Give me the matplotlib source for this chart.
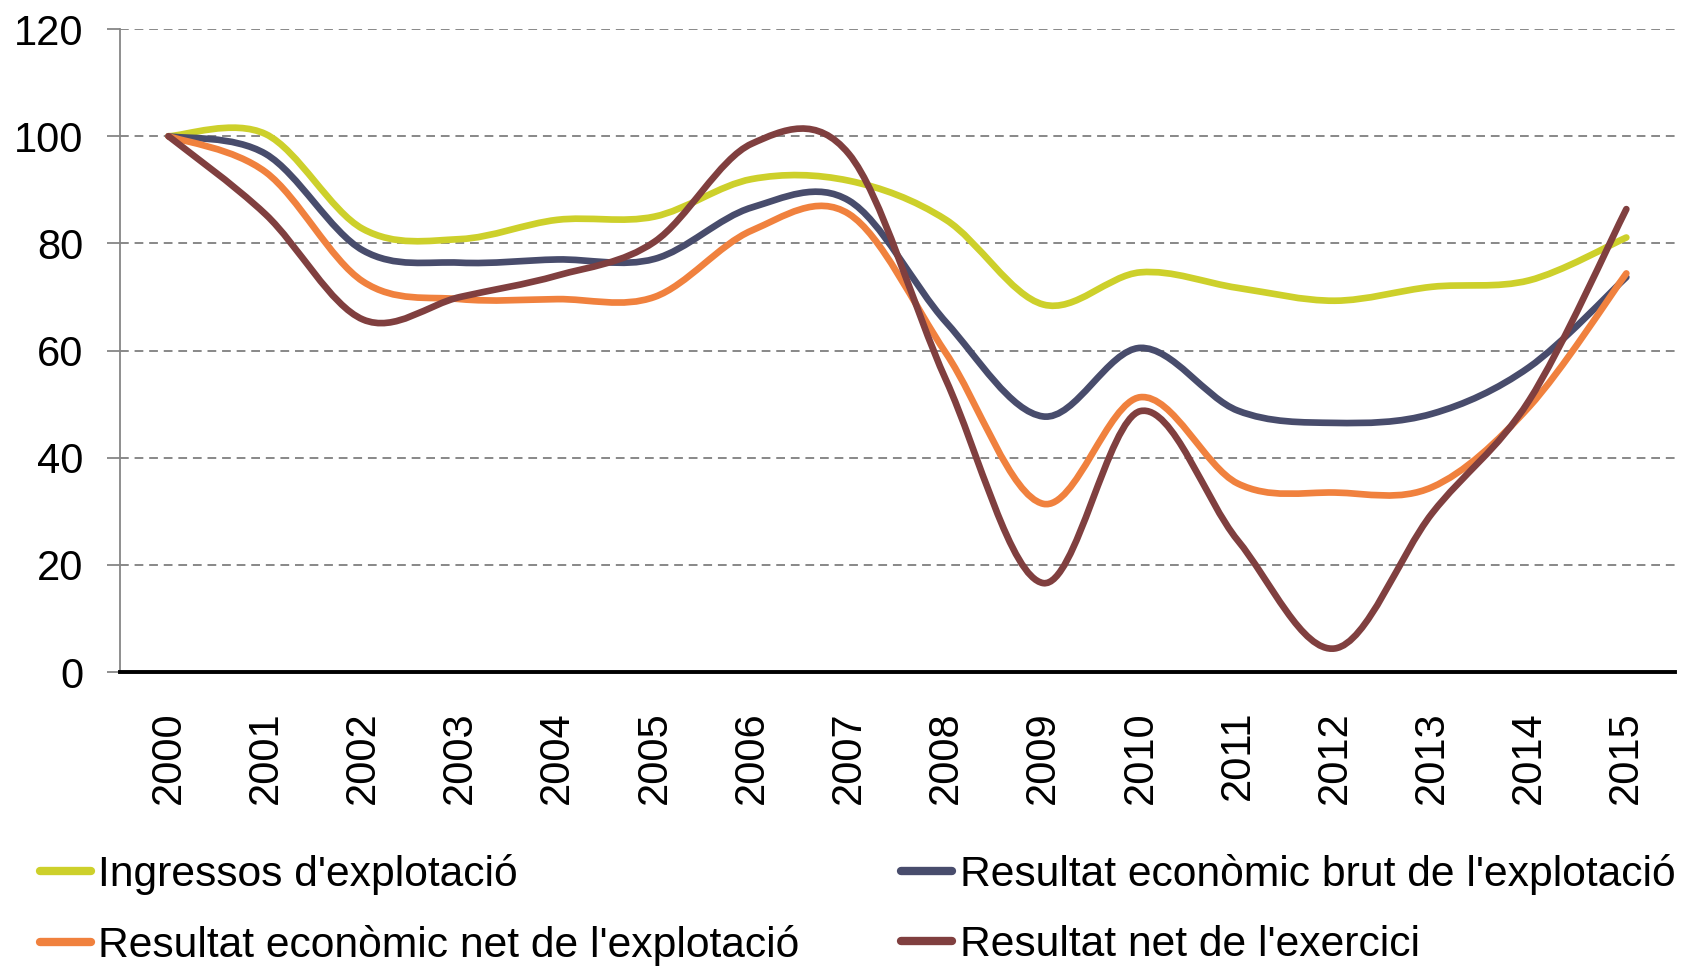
import matplotlib
matplotlib.use("Agg")
import matplotlib.pyplot as plt
from matplotlib.path import Path
from matplotlib.patches import PathPatch
from matplotlib.lines import Line2D

years = [str(y) for y in range(2000, 2016)]

ingressos = [100, 100.4, 82.7, 80.8, 84.4, 85.0, 92.0, 91.7, 84.4, 68.6, 74.6, 71.7, 69.3, 71.9, 73.1, 81.1]
res_brut = [100, 96.7, 78.7, 76.4, 77.0, 77.1, 86.7, 88.0, 65.3, 47.7, 60.5, 48.8, 46.5, 48.2, 56.9, 73.7]
res_net_expl = [100, 93.3, 72.9, 69.6, 69.6, 70.0, 82.4, 85.5, 59.5, 31.4, 51.3, 35.2, 33.5, 34.5, 49.5, 74.4]
res_net_exer = [100, 85.4, 65.8, 70.0, 74.0, 80.3, 98.6, 96.7, 54.5, 16.6, 48.7, 24.6, 4.4, 29.6, 50.7, 86.4]

labels = [
    "Ingressos d'explotació",
    "Resultat econòmic brut de l'explotació",
    "Resultat econòmic net de l'explotació",
    "Resultat net de l'exercici",
]
colors = ["#CDD02B", "#484C6C", "#F0813E", "#803F3F"]

plt.rcParams["font.family"] = ["Liberation Sans", "DejaVu Sans"]


def smooth_path(xs, ys):
    """Bezier path through the points, like a spreadsheet smoothed line."""
    n = len(xs)
    verts = [(xs[0], ys[0])]
    codes = [Path.MOVETO]
    for i in range(n - 1):
        i0 = max(i - 1, 0)
        i3 = min(i + 2, n - 1)
        c1 = (xs[i] + (xs[i + 1] - xs[i0]) / 6, ys[i] + (ys[i + 1] - ys[i0]) / 6)
        c2 = (xs[i + 1] - (xs[i3] - xs[i]) / 6, ys[i + 1] - (ys[i3] - ys[i]) / 6)
        verts += [c1, c2, (xs[i + 1], ys[i + 1])]
        codes += [Path.CURVE4] * 3
    return Path(verts, codes)


fig = plt.figure(figsize=(16.82, 9.66), dpi=100)
ax = fig.add_axes([0.0713, 0.3043, 0.9245, 0.6656])

xs = list(range(len(years)))
for series, color in zip([ingressos, res_brut, res_net_expl, res_net_exer], colors):
    ax.add_patch(PathPatch(smooth_path(xs, series), fill=False, edgecolor=color,
                           linewidth=4.8, capstyle="round", joinstyle="round", zorder=3))

ax.set_xlim(-0.5, 15.5)
ax.set_ylim(0, 120)
ax.set_yticks(range(0, 121, 20))
ax.set_xticks(xs)
ax.set_xticklabels(years, rotation=90)
ax.yaxis.grid(True, color="#888888", linestyle=(0, (4.5, 3)), linewidth=1.4)
ax.set_axisbelow(True)

for side in ["top", "right"]:
    ax.spines[side].set_visible(False)
ax.spines["left"].set_color("#868686")
ax.spines["left"].set_linewidth(1.3)
ax.spines["bottom"].set_color("black")
ax.spines["bottom"].set_linewidth(2.8)
ax.spines["bottom"].set_zorder(4)

ax.tick_params(axis="y", length=9.5, width=1.3, color="#868686", pad=17, labelsize=30)
ax.tick_params(axis="x", length=0, pad=28, labelsize=30)

handles = [Line2D([], [], color=c, linewidth=6, solid_capstyle="round") for c in colors]
order = [0, 2, 1, 3]
fig.legend([handles[i] for i in order], [labels[i] for i in order],
           ncol=2, loc="upper left", bbox_to_anchor=(0.001, 0.156),
           frameon=False, handlelength=1.2, handletextpad=0.17,
           columnspacing=2.38, labelspacing=0.72,
           prop={"size": 30.7})

fig.savefig("out.png", dpi=100)
